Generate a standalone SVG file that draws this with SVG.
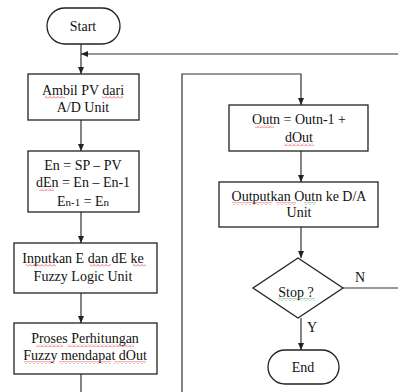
<svg xmlns="http://www.w3.org/2000/svg" width="398" height="392" viewBox="0 0 398 392" font-family="Liberation Serif" font-size="14">
<defs>
<marker id="ah" markerWidth="8" markerHeight="8" refX="7" refY="4" orient="auto" markerUnits="userSpaceOnUse">
<path d="M0,1 L7,4 L0,7 Z" fill="#222"/>
</marker>
<pattern id="wr" width="4" height="3" patternUnits="userSpaceOnUse">
<path d="M0,2.5 L2,0.5 L4,2.5" fill="none" stroke="#e23030" stroke-width="0.7"/>
</pattern>
<pattern id="wg" width="4" height="3" patternUnits="userSpaceOnUse">
<path d="M0,2.5 L2,0.5 L4,2.5" fill="none" stroke="#3a9a3a" stroke-width="0.7"/>
</pattern>
<style>
.box{fill:#fff;stroke:#222;stroke-width:1.3}
.ln{fill:none;stroke:#333;stroke-width:1.2}
.t{fill:#111;text-anchor:middle}
.lbl{fill:#111;text-anchor:start}
.sr{fill:url(#wr)}
.sg{fill:url(#wg)}
</style>
</defs>
<rect width="398" height="392" fill="#fff"/>
<g id="connectors">
<line class="ln" x1="81" y1="44" x2="81" y2="74" marker-end="url(#ah)"/>
<line class="ln" x1="398" y1="54" x2="81" y2="54" marker-end="url(#ah)"/>
<line class="ln" x1="81" y1="120" x2="81" y2="151" marker-end="url(#ah)"/>
<line class="ln" x1="81" y1="212" x2="81" y2="243" marker-end="url(#ah)"/>
<line class="ln" x1="81" y1="293" x2="81" y2="323" marker-end="url(#ah)"/>
<line class="ln" x1="81" y1="374" x2="81" y2="392"/>
<polyline class="ln" points="182,392 182,74 301,74 301,105" marker-end="url(#ah)"/>
<line class="ln" x1="301" y1="151" x2="301" y2="182" marker-end="url(#ah)"/>
<line class="ln" x1="301" y1="227" x2="301" y2="258" marker-end="url(#ah)"/>
<line class="ln" x1="301" y1="318" x2="301" y2="350" marker-end="url(#ah)"/>
<line class="ln" x1="343" y1="288" x2="398" y2="288"/>
<text class="lbl" x="355" y="282">N</text>
<text class="lbl" x="307" y="332">Y</text>
</g>
<g id="start">
<rect class="box" x="47" y="8" width="73" height="36" rx="18"/>
<text class="t" x="83" y="31">Start</text>
</g>
<g id="ambil">
<rect class="box" x="28" y="74" width="111" height="46"/>
<text class="t" x="83" y="95">Ambil PV  dari</text>
<text class="t" x="83" y="112">A/D Unit</text>
<rect class="sr" x="45" y="96" width="20" height="3"/>
<rect class="sr" x="102" y="96" width="21" height="3"/>
</g>
<g id="error">
<rect class="box" x="28" y="151" width="111" height="61"/>
<text class="t" x="83" y="170">En = SP – PV</text>
<text class="t" x="83" y="187">dEn = En – En-1</text>
<text class="t" x="83" y="206">E<tspan font-size="11">n-1</tspan> = E<tspan font-size="11">n</tspan></text>
<rect class="sr" x="39" y="188" width="15" height="3"/>
</g>
<g id="inputkan">
<rect class="box" x="14" y="243" width="143" height="50"/>
<text class="t" x="83" y="263">Inputkan E dan dE ke</text>
<text class="t" x="83" y="281">Fuzzy Logic Unit</text>
<rect class="sr" x="26" y="264" width="30" height="3"/>
<rect class="sr" x="90" y="264" width="21" height="3"/>
<rect class="sr" x="133" y="264" width="13" height="3"/>
</g>
<g id="proses">
<rect class="box" x="14" y="323" width="143" height="51"/>
<text class="t" x="85" y="343">Proses Perhitungan</text>
<text class="t" x="85" y="360">Fuzzy mendapat dOut</text>
<rect class="sr" x="36" y="344" width="27" height="3"/>
<rect class="sr" x="67" y="344" width="67" height="3"/>
<rect class="sr" x="24" y="361" width="30" height="3"/>
<rect class="sr" x="59" y="361" width="52" height="3"/>
<rect class="sr" x="114" y="361" width="32" height="3"/>
</g>
<g id="outn">
<rect class="box" x="229" y="105" width="139" height="46"/>
<text class="t" x="299" y="124">Outn = Outn-1 +</text>
<text class="t" x="299" y="142">dOut</text>
<rect class="sr" x="255" y="125" width="19" height="3"/>
<rect class="sr" x="284" y="143" width="30" height="3"/>
</g>
<g id="outputkan">
<rect class="box" x="219" y="182" width="159" height="45"/>
<text class="t" x="299" y="201">Outputkan Outn  ke D/A</text>
<text class="t" x="299" y="217">Unit</text>
<rect class="sr" x="232" y="202" width="40" height="3"/>
<rect class="sr" x="276" y="202" width="20" height="3"/>
<rect class="sg" x="304" y="202" width="12" height="3"/>
</g>
<g id="stop">
<polygon class="box" points="298,258 343,288 298,318 253,288"/>
<text class="t" x="296" y="297">Stop ?</text>
<rect class="sg" x="278" y="298" width="37" height="3"/>
</g>
<g id="end">
<rect class="box" x="268" y="350" width="71" height="34" rx="17"/>
<text class="t" x="303" y="372">End</text>
</g>
</svg>
